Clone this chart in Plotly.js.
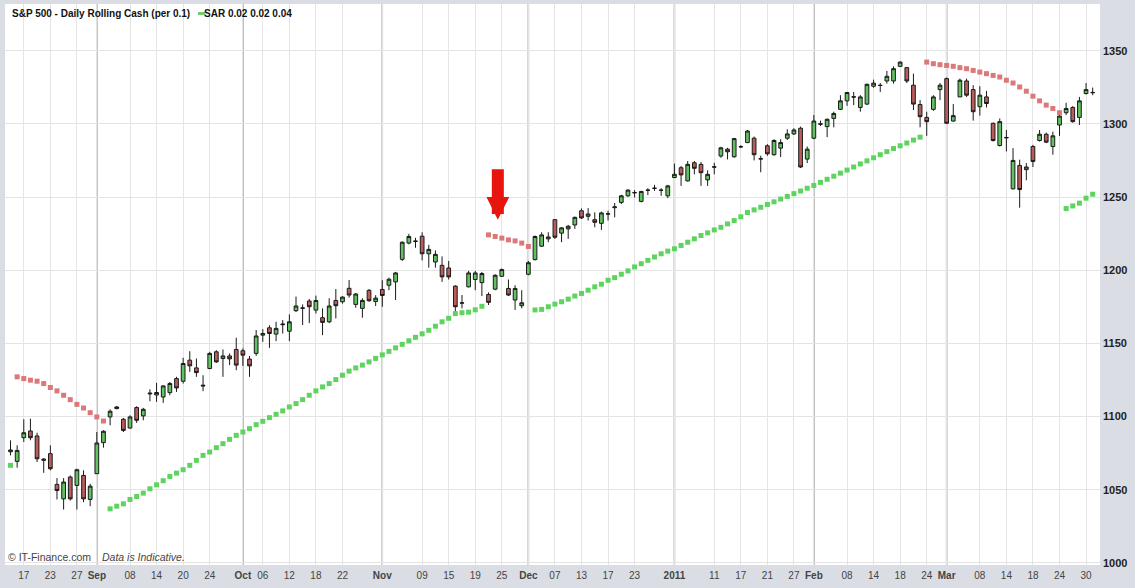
<!DOCTYPE html>
<html>
<head>
<meta charset="utf-8">
<script src="https://cdn.plot.ly/plotly-3.0.1.min.js"></script>
<style>html,body{margin:0;padding:0;background:#dadee4;}#chart{width:1135px;height:588px;}</style>
</head>
<body>
<div id="chart"></div>
<script>
// Trading days shown (rolling cash: holidays traded, except 24 Dec)
const dates = [
'2010-08-13','2010-08-16','2010-08-17','2010-08-18','2010-08-19','2010-08-20','2010-08-23','2010-08-24','2010-08-25','2010-08-26','2010-08-27','2010-08-30','2010-08-31',
'2010-09-01','2010-09-02','2010-09-03','2010-09-06','2010-09-07','2010-09-08','2010-09-09','2010-09-10','2010-09-13','2010-09-14','2010-09-15','2010-09-16','2010-09-17','2010-09-20','2010-09-21','2010-09-22','2010-09-23','2010-09-24','2010-09-27','2010-09-28','2010-09-29','2010-09-30',
'2010-10-01','2010-10-04','2010-10-05','2010-10-06','2010-10-07','2010-10-08','2010-10-11','2010-10-12','2010-10-13','2010-10-14','2010-10-15','2010-10-18','2010-10-19','2010-10-20','2010-10-21','2010-10-22','2010-10-25','2010-10-26','2010-10-27','2010-10-28','2010-10-29',
'2010-11-01','2010-11-02','2010-11-03','2010-11-04','2010-11-05','2010-11-08','2010-11-09','2010-11-10','2010-11-11','2010-11-12','2010-11-15','2010-11-16','2010-11-17','2010-11-18','2010-11-19','2010-11-22','2010-11-23','2010-11-24','2010-11-25','2010-11-26','2010-11-29','2010-11-30',
'2010-12-01','2010-12-02','2010-12-03','2010-12-06','2010-12-07','2010-12-08','2010-12-09','2010-12-10','2010-12-13','2010-12-14','2010-12-15','2010-12-16','2010-12-17','2010-12-20','2010-12-21','2010-12-22','2010-12-23','2010-12-27','2010-12-28','2010-12-29','2010-12-30','2010-12-31',
'2011-01-03','2011-01-04','2011-01-05','2011-01-06','2011-01-07','2011-01-10','2011-01-11','2011-01-12','2011-01-13','2011-01-14','2011-01-17','2011-01-18','2011-01-19','2011-01-20','2011-01-21','2011-01-24','2011-01-25','2011-01-26','2011-01-27','2011-01-28','2011-01-31',
'2011-02-01','2011-02-02','2011-02-03','2011-02-04','2011-02-07','2011-02-08','2011-02-09','2011-02-10','2011-02-11','2011-02-14','2011-02-15','2011-02-16','2011-02-17','2011-02-18','2011-02-21','2011-02-22','2011-02-23','2011-02-24','2011-02-25','2011-02-28',
'2011-03-01','2011-03-02','2011-03-03','2011-03-04','2011-03-07','2011-03-08','2011-03-09','2011-03-10','2011-03-11','2011-03-14','2011-03-15','2011-03-16','2011-03-17','2011-03-18','2011-03-21','2011-03-22','2011-03-23','2011-03-24','2011-03-25','2011-03-28','2011-03-29','2011-03-30','2011-03-31'
];

const open = [1076.0,1069.4,1085.6,1090.2,1086.8,1071.0,1074.7,1053.7,1043.8,1058.7,1053.0,1059.8,1043.4,
1061.0,1082.2,1099.8,1105.5,1098.2,1092.2,1106.2,1100.5,1115.5,1114.8,1113.4,1116.4,1126.0,1124.2,1138.6,1133.3,1121.5,1132.9,1144.3,1139.7,1141.5,1145.9,
1145.0,1139.3,1143.2,1155.7,1160.7,1156.4,1162.8,1158.4,1172.4,1174.0,1179.0,1172.8,1167.6,1164.8,1179.4,1178.5,1187.7,1176.7,1174.0,1186.3,1178.7,
1186.9,1189.8,1192.1,1207.5,1218.6,1220.0,1223.3,1211.3,1205.7,1203.4,1201.6,1189.2,1177.8,1188.7,1193.7,1191.6,1183.5,1187.1,1195.9,1187.6,1179.7,1175.8,
1197.3,1207.3,1216.5,1221.5,1234.6,1225.4,1228.3,1231.0,1240.7,1236.9,1234.6,1232.1,1238.4,1242.8,1246.4,1250.9,1253.2,1247.1,1254.6,1256.0,1254.8,1250.9,
1263.4,1270.1,1261.1,1273.5,1272.4,1261.8,1270.5,1278.1,1282.8,1277.6,1284.3,1287.3,1290.3,1276.3,1285.1,1279.0,1283.5,1290.3,1293.2,1297.1,1276.0,
1290.3,1300.1,1298.2,1303.8,1310.0,1315.8,1318.6,1311.3,1313.6,1325.8,1326.5,1329.4,1329.4,1339.4,1338.5,1326.5,1313.3,1304.5,1310.0,1323.5,
1331.0,1302.0,1318.5,1329.4,1323.5,1311.8,1318.5,1300.5,1285.3,1290.8,1255.7,1271.7,1268.8,1284.6,1288.7,1293.0,1284.6,1299.3,1307.7,1311.3,1304.5,1320.8,1321.6];

const high = [1083.8,1080.4,1098.2,1098.6,1089.0,1071.6,1080.4,1058.0,1058.0,1059.8,1064.4,1063.3,1054.1,
1089.5,1090.7,1105.0,1107.2,1099.1,1100.9,1107.1,1106.0,1118.7,1123.1,1121.5,1123.7,1127.2,1140.2,1144.7,1139.7,1128.3,1144.3,1145.4,1145.9,1143.2,1153.9,
1146.6,1141.5,1159.2,1159.8,1162.5,1164.8,1166.0,1169.9,1182.0,1176.7,1180.4,1182.7,1174.0,1180.9,1187.2,1182.2,1193.4,1184.5,1180.9,1187.2,1183.0,
1193.2,1195.0,1198.9,1219.7,1224.9,1222.2,1226.0,1217.4,1213.6,1209.5,1206.4,1189.8,1183.1,1199.6,1199.6,1198.9,1184.9,1197.3,1201.2,1193.7,1189.8,1186.4,
1206.4,1223.8,1226.0,1226.0,1235.1,1229.4,1231.0,1236.7,1242.3,1242.5,1239.6,1240.1,1240.7,1246.0,1251.6,1255.4,1254.8,1254.3,1256.1,1258.4,1256.1,1258.4,
1272.9,1271.3,1274.7,1274.7,1274.0,1268.3,1273.5,1284.4,1283.7,1290.5,1285.5,1295.9,1291.4,1278.3,1286.2,1289.6,1289.6,1296.4,1297.1,1298.2,1284.6,
1306.1,1302.3,1303.8,1308.4,1319.7,1321.9,1321.9,1319.7,1327.6,1330.3,1328.0,1336.2,1339.4,1342.8,1338.9,1334.4,1316.3,1308.4,1319.7,1328.0,
1331.7,1313.6,1331.0,1331.0,1326.5,1325.8,1322.6,1300.9,1303.8,1295.9,1283.5,1275.6,1273.3,1285.7,1295.9,1294.1,1294.8,1307.2,1314.5,1312.2,1318.5,1328.0,1324.9];

const low = [1073.5,1065.1,1082.7,1083.9,1069.0,1061.6,1063.3,1043.4,1036.5,1042.7,1036.5,1041.5,1038.8,
1061.0,1078.8,1094.1,1105.0,1089.5,1091.8,1095.7,1097.5,1110.5,1110.1,1109.4,1114.6,1116.9,1122.6,1130.6,1127.2,1117.4,1132.4,1136.7,1127.2,1135.2,1131.7,
1134.7,1127.2,1141.5,1151.1,1147.0,1151.6,1156.8,1151.6,1171.5,1162.6,1163.9,1170.5,1155.7,1163.9,1167.1,1177.2,1181.3,1174.4,1167.6,1178.5,1175.6,
1175.1,1186.4,1179.7,1206.4,1217.7,1215.4,1206.8,1201.8,1201.8,1192.1,1193.7,1170.6,1174.0,1188.3,1186.4,1182.4,1176.3,1186.4,1195.5,1182.4,1172.9,1174.0,
1196.6,1206.8,1215.9,1219.2,1221.5,1219.2,1221.5,1228.3,1235.1,1234.0,1229.4,1227.6,1234.0,1236.2,1245.3,1250.2,1249.8,1246.4,1251.4,1254.3,1250.9,1249.3,
1263.0,1257.7,1260.7,1265.6,1257.7,1257.7,1265.6,1276.9,1275.8,1276.9,1283.5,1286.9,1275.1,1267.0,1278.3,1278.3,1277.4,1289.1,1292.5,1269.9,1273.3,
1289.6,1298.6,1291.0,1297.7,1309.5,1312.4,1312.9,1308.4,1312.9,1324.7,1321.9,1327.6,1327.6,1338.9,1328.0,1309.5,1297.7,1291.9,1309.0,1316.3,
1300.0,1301.6,1318.5,1318.5,1302.3,1305.7,1311.3,1288.0,1284.6,1281.2,1255.2,1242.8,1261.5,1270.6,1288.0,1286.9,1279.0,1291.9,1306.1,1300.9,1299.3,1320.1,1319.7];

const close = [1077.2,1076.9,1089.0,1085.6,1071.2,1070.2,1064.4,1049.5,1055.3,1043.8,1063.7,1043.8,1052.5,
1082.0,1090.0,1103.7,1106.6,1090.6,1099.8,1097.5,1105.0,1116.0,1116.5,1121.0,1122.6,1119.6,1136.3,1134.7,1130.1,1121.0,1143.2,1137.4,1141.5,1139.5,1135.2,
1142.0,1134.7,1155.1,1156.8,1156.8,1160.3,1163.2,1164.8,1175.6,1174.3,1175.1,1179.4,1164.4,1175.6,1175.8,1181.7,1183.1,1183.8,1179.4,1179.2,1181.0,
1182.8,1193.9,1198.2,1219.2,1223.1,1219.8,1211.3,1214.3,1210.9,1195.5,1195.5,1175.1,1177.6,1198.2,1198.2,1197.8,1178.1,1196.6,1200.5,1183.1,1187.6,1177.8,
1205.2,1223.1,1224.2,1222.8,1222.6,1229.0,1230.1,1236.2,1235.8,1238.5,1232.8,1239.2,1238.6,1243.3,1250.9,1254.8,1253.0,1253.9,1254.8,1256.1,1254.7,1257.7,
1265.6,1265.2,1272.4,1269.7,1266.7,1265.6,1270.7,1283.7,1281.0,1290.0,1284.5,1295.2,1279.0,1276.1,1279.6,1288.7,1287.3,1293.2,1295.9,1270.6,1282.8,
1302.0,1299.9,1303.2,1307.2,1315.8,1321.5,1318.4,1318.5,1327.1,1327.9,1326.3,1332.6,1337.8,1342.3,1329.4,1313.6,1305.0,1301.6,1318.5,1326.5,
1300.5,1305.7,1329.9,1319.7,1308.4,1319.7,1314.0,1288.7,1301.6,1290.6,1275.1,1255.2,1270.6,1274.4,1293.0,1287.6,1291.9,1305.4,1310.6,1301.6,1315.8,1323.5,1321.4];

// Parabolic SAR (0.02 0.02 0.04), one value per day
const sar = [1066.7,
1127.2,1126.0,1124.9,1124.2,1122.6,1119.9,1117.6,1114.6,1111.6,1108.4,1105.9,1102.7,1099.8,1097.0,
1037.0,1038.8,1040.4,1043.4,1045.4,1047.7,1050.7,1053.4,1056.2,1059.1,1061.4,1063.7,1066.7,1070.1,1073.5,1075.8,1078.8,1081.5,1084.5,1087.2,
1089.5,1091.8,1094.5,1096.8,1099.3,1101.6,1103.9,1106.6,1108.9,1111.6,1114.6,1117.6,1120.3,1122.6,1125.3,1128.3,1131.1,1133.3,1135.2,1137.4,
1139.8,1142.2,1144.6,1147.0,1149.4,1151.8,1154.2,1156.6,1159.0,1161.8,1164.8,1167.2,1170.4,1171.0,1171.4,1173.0,1175.4,
1224.2,1223.1,1222.0,1220.8,1220.1,1218.6,1216.3,
1172.9,1173.3,1175.1,1176.9,1178.5,1180.3,1182.4,1184.2,1186.4,1188.7,1190.5,1193.2,1195.0,1197.3,1199.6,1202.3,1204.5,1206.8,1209.1,1211.3,1213.1,1214.7,
1217.0,1219.2,1221.5,1223.8,1225.6,1227.6,1229.4,1231.7,1234.0,1236.6,
1239.5,1241.3,1243.1,1245.0,1246.8,1248.7,1250.5,1252.4,1254.2,1256.1,1258.0,1260.1,1262.2,1264.3,1266.4,1268.5,1270.6,1272.7,1274.8,1276.9,1279.0,1281.1,1283.2,1285.1,1287.0,1289.0,1291.0,
1342.3,1341.2,1340.5,1340.0,1339.4,1338.5,1337.8,1336.6,1335.5,1334.4,1333.2,1332.1,1329.9,1328.0,1325.3,1322.4,1319.0,1315.8,1312.9,1310.6,1307.7,
1242.2,1244.0,1245.9,1249.3,1252.0];
// SAR side: L = below price (long, green), S = above price (short, red)
const sarTrendRuns = [['L',1],['S',14],['L',57],['S',7],['L',59],['S',21],['L',5]];

// X tick labels
const tickDates = ['2010-08-17','2010-08-23','2010-08-27','2010-09-01','2010-09-08','2010-09-14','2010-09-20','2010-09-24','2010-10-01','2010-10-06','2010-10-12','2010-10-18','2010-10-22','2010-11-01','2010-11-09','2010-11-15','2010-11-19','2010-11-25','2010-12-01','2010-12-07','2010-12-13','2010-12-17','2010-12-23','2011-01-03','2011-01-11','2011-01-17','2011-01-21','2011-01-27','2011-02-01','2011-02-08','2011-02-14','2011-02-18','2011-02-24','2011-03-01','2011-03-08','2011-03-14','2011-03-18','2011-03-24','2011-03-30'];
const tickLabels = ['17','23','27','Sep','08','14','20','24','Oct','06','12','18','22','Nov','09','15','19','25','Dec','07','13','17','23','2011','11','17','21','27','Feb','08','14','18','24','Mar','08','14','18','24','30'];
const majorLabels = ['Sep','Oct','Nov','Dec','2011','Feb','Mar'];
const yTicks = [1000,1050,1100,1150,1200,1250,1300,1350];

const signalDate = '2010-11-24';
const signalTipValue = 1234.5;

// ---- build ----
const idx = dates.map((d,i)=>i);
const trend = [];
sarTrendRuns.forEach(([s,n])=>{for(let k=0;k<n;k++)trend.push(s);});
const sarLong = sar.map((v,i)=>trend[i]==='L'?v:null);
const sarShort = sar.map((v,i)=>trend[i]==='S'?v:null);

const tickvals = tickDates.map(d=>dates.indexOf(d));
const ticktext = tickLabels.map(t=>majorLabels.includes(t)?'<b>'+t+'</b>':t);

const traces = [
 {type:'scatter',mode:'markers',x:idx,y:sarLong,marker:{symbol:'square',size:5,color:'#5fd35f'},hoverinfo:'skip',showlegend:false},
 {type:'scatter',mode:'markers',x:idx,y:sarShort,marker:{symbol:'square',size:5,color:'#dc7878'},hoverinfo:'skip',showlegend:false},
 {type:'candlestick',x:idx,open:open,high:high,low:low,close:close,whiskerwidth:0,
  increasing:{line:{color:'#1a1a1a',width:1},fillcolor:'#62c262'},
  decreasing:{line:{color:'#1a1a1a',width:1},fillcolor:'#bb5c5c'},
  showlegend:false,hoverinfo:'skip'}
];

const shapes = [];
tickLabels.forEach((t,k)=>{
  if(majorLabels.includes(t)){
    shapes.push({type:'line',xref:'x',yref:'paper',x0:tickvals[k],x1:tickvals[k],y0:0,y1:1,layer:'below',line:{color:'#999999',width:1.5}});
  }
});
// legend swatch
shapes.push({type:'rect',xref:'paper',yref:'paper',xsizemode:'pixel',ysizemode:'pixel',xanchor:0,yanchor:1,x0:193,x1:200,y0:-8,y1:-11,fillcolor:'#79c879',line:{width:0}});

const sigIdx = dates.indexOf(signalDate)+0.4;

const layout = {
 width:1135,height:588,
 margin:{l:5,r:35,t:4,b:23,pad:0},
 paper_bgcolor:'#dadee4',plot_bgcolor:'#ffffff',
 font:{family:'Liberation Sans, Arial, sans-serif',color:'#333'},
 boxgap:0.2,
 xaxis:{type:'linear',range:[-0.83,164.1],tickmode:'array',tickvals:tickvals,ticktext:ticktext,
   tickfont:{size:10,color:'#444',family:'Liberation Sans, Arial, sans-serif'},ticklabelstandoff:3,
   showgrid:true,gridcolor:'#e4e4e4',gridwidth:1,zeroline:false,showline:false,ticks:'',
   rangeslider:{visible:false},fixedrange:true},
 yaxis:{side:'right',range:[998.6,1382],tickmode:'array',tickvals:yTicks,
   tickfont:{size:11,color:'#222',family:'Liberation Sans, Arial, sans-serif',weight:'bold'},ticklabelstandoff:2,
   showgrid:true,gridcolor:'#e4e4e4',gridwidth:1,zeroline:false,showline:false,ticks:'',fixedrange:true},
 shapes:shapes,
 annotations:[
  {xref:'paper',yref:'paper',x:0,y:1,xanchor:'left',yanchor:'top',xshift:5,yshift:-2,showarrow:false,
   text:'<b>S&amp;P 500 - Daily Rolling Cash (per 0.1)</b>',font:{size:10,color:'#111'}},
  {xref:'paper',yref:'paper',x:0,y:1,xanchor:'left',yanchor:'top',xshift:197,yshift:-2,showarrow:false,
   text:'<b>SAR 0.02 0.02 0.04</b>',font:{size:10,color:'#111'}},
  {xref:'paper',yref:'paper',x:0,y:0,xanchor:'left',yanchor:'bottom',xshift:1,yshift:0,showarrow:false,
   text:'© IT-Finance.com',font:{size:10.5,color:'#444'}},
  {xref:'paper',yref:'paper',x:0,y:0,xanchor:'left',yanchor:'bottom',xshift:95,yshift:0,showarrow:false,
   text:'<i>Data is Indicative.</i>',font:{size:10.5,color:'#444'}},
  {xref:'x',yref:'y',x:sigIdx,y:signalTipValue,ax:0,ay:-52,showarrow:true,arrowhead:2,arrowsize:0.38,arrowwidth:12,arrowcolor:'#e8150f',text:''}
 ]
};

Plotly.newPlot('chart',traces,layout,{staticPlot:true,displayModeBar:false});
</script>
</body>
</html>
